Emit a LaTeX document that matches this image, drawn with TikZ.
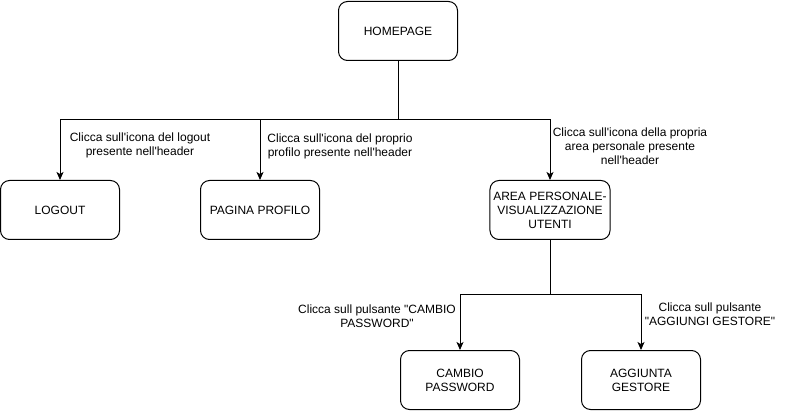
\documentclass[tikz,border=0pt]{standalone}
\usepackage{fontspec}
\setmainfont{Liberation Sans}
\usetikzlibrary{arrows.meta}

\newcommand{\ap}{\textquotesingle}
\newcommand{\qt}{\textquotedbl}

\begin{document}
\begin{tikzpicture}[x=1pt, y=-1pt, line width=1pt,
        >={Stealth[length=8pt, width=7pt, inset=2pt]},
        screen/.style={draw, rounded corners=9pt, minimum width=119pt, minimum height=59pt,
            align=center, font=\fontsize{12}{14}\selectfont},
        hint/.style={align=center, font=\fontsize{12}{14}\selectfont}]
        \useasboundingbox (0,0) rectangle (791,411);

        % pages
        \node[screen] (home) at (398,31) {HOMEPAGE};
        \node[screen] (logout) at (60,210) {LOGOUT};
        \node[screen] (profilo) at (260,210) {PAGINA PROFILO};
        \node[screen] (area) at (550,210) {AREA PERSONALE-\\VISUALIZZAZIONE\\UTENTI};
        \node[screen] (cambio) at (460,380) {CAMBIO\\PASSWORD};
        \node[screen] (aggiunta) at (641,380) {AGGIUNTA\\GESTORE};

        % branch points
        \coordinate (forkhome) at (398,120);
        \coordinate (forkarea) at (550,294);

        % connectors
        \draw (home.south) -- (forkhome);
        \draw[->] (forkhome) -| (logout.north);
        \draw[->] (forkhome) -| (profilo.north);
        \draw[->] (forkhome) -| (area.north);

        \draw (area.south) -- (forkarea);
        \draw[->] (forkarea) -| (cambio.north);
        \draw[->] (forkarea) -| (aggiunta.north);

        % labels
        \node[hint] (hlogout) at (140,145) {Clicca sull\ap icona del logout\\presente nell\ap header};
        \node[hint] (hprofilo) at (340,146) {Clicca sull\ap icona del proprio\\profilo presente nell\ap header};
        \node[hint] (harea) at (630,146) {Clicca sull\ap icona della propria\\area personale presente\\nell\ap header};
        \node[hint] (hcambio) at (377,316) {Clicca sull pulsante \qt CAMBIO\\PASSWORD\qt};
        \node[hint] (haggiunta) at (710,314) {Clicca sull pulsante\\\qt AGGIUNGI GESTORE\qt};
\end{tikzpicture}
\end{document}
